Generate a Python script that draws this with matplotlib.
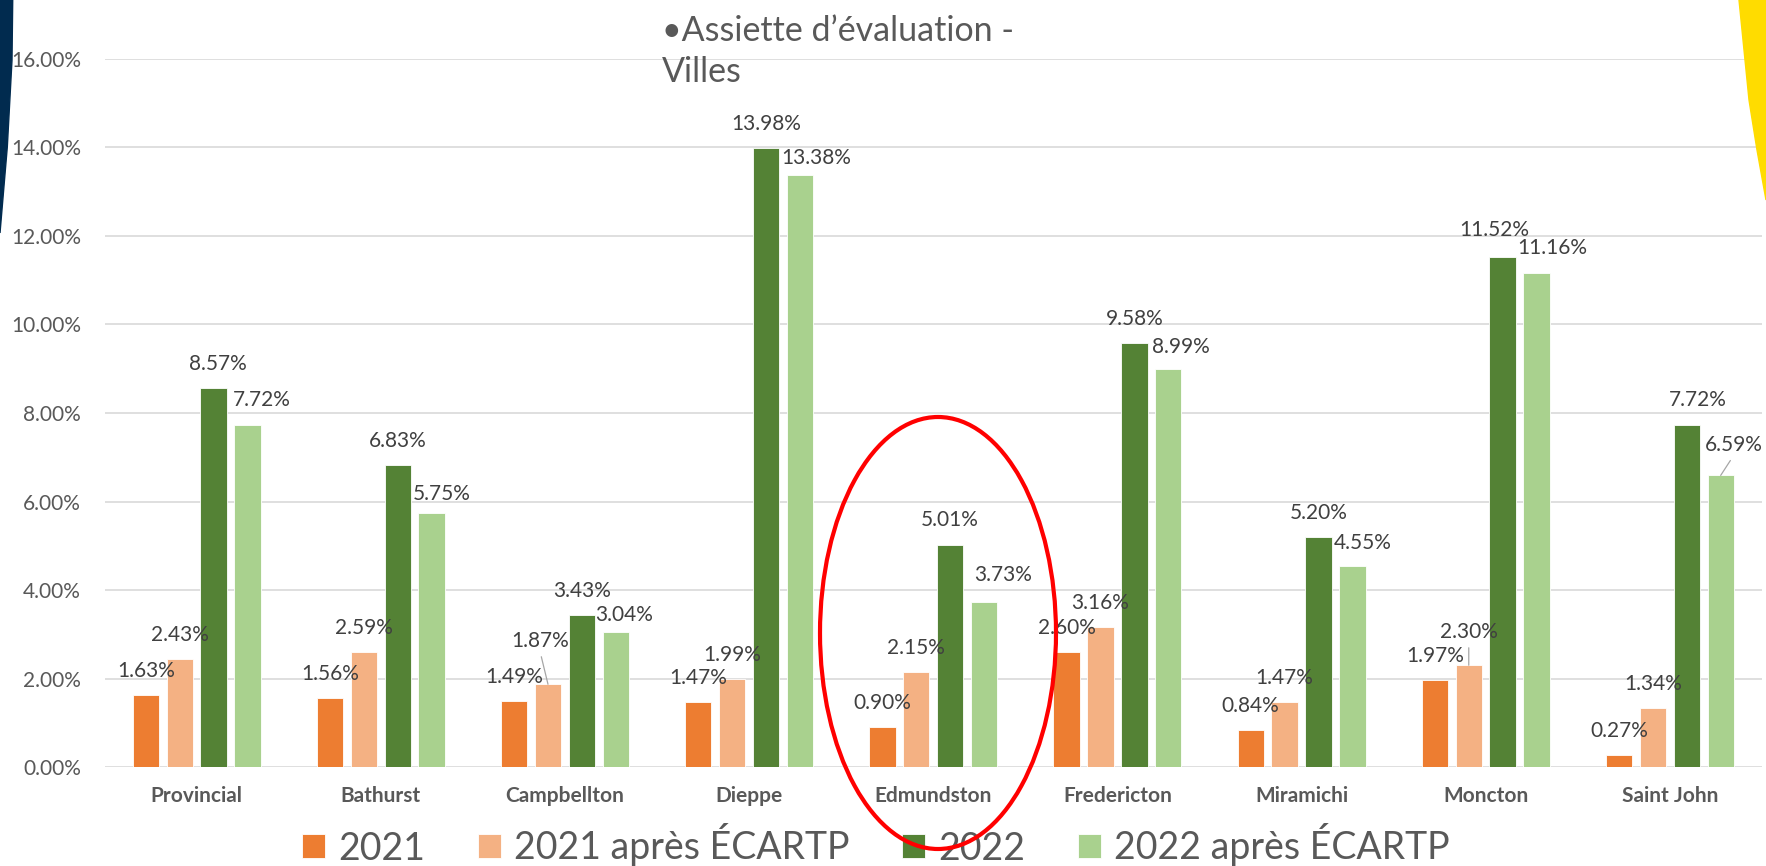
import numpy as np
import matplotlib
matplotlib.use('Agg')
import matplotlib.pyplot as plt
from matplotlib.patches import Ellipse, Polygon

# donnees
villes = ['Provincial', 'Bathurst', 'Campbellton', 'Dieppe', 'Edmundston',
          'Fredericton', 'Miramichi', 'Moncton', 'Saint John']
series_noms = ['2021', '2021 après ÉCARTP', '2022', '2022 après ÉCARTP']
v2021 = [1.63, 1.56, 1.49, 1.47, 0.90, 2.60, 0.84, 1.97, 0.27]
v2021_ecartp = [2.43, 2.59, 1.87, 1.99, 2.15, 3.16, 1.47, 2.30, 1.34]
v2022 = [8.57, 6.83, 3.43, 13.98, 5.01, 9.58, 5.20, 11.52, 7.72]
v2022_ecartp = [7.72, 5.75, 3.04, 13.38, 3.73, 8.99, 4.55, 11.16, 6.59]
y_ticks = [0, 2, 4, 6, 8, 10, 12, 14, 16]

couleurs = ['#ED7D31', '#F4B183', '#548235', '#A9D18E']

# decalage des etiquettes (pixels), comme place a la main dans Excel
label_dx = [[0, 0, 0, 0, 0, 0, 0, 0, 0],
            [0, 0, -8, 0, 0, 0, 0, 0, 0],
            [4, 0, 0, 0, 0, 0, 0, -8, 11],
            [14, 10, 8, 16, 19, 13, 10, 16, 13]]
label_dy = [[24, 24, 24, 24, 24, 24, 24, 24, 24],
            [24, 24, 43, 24, 24, 24, 24, 33, 24],
            [24, 24, 24, 24, 25, 24, 24, 27, 25],
            [25, 19, 17, 17, 27, 22, 23, 25, 30]]
leader = [(1, 2), (1, 7), (3, 8)]

plt.rcParams['font.family'] = ['Lato', 'DejaVu Sans']
px = 72 / 100  # pixels -> points

fig = plt.figure(figsize=(17.66, 8.66), dpi=100)
ax = fig.add_axes([0.0592, 0.1143, 0.9385, 0.8176])

x = np.arange(len(villes))
largeur = 0.143
pas = 0.184
donnees = [v2021, v2021_ecartp, v2022, v2022_ecartp]

for i, vals in enumerate(donnees):
    pos = x + (i - 1.5) * pas
    ax.bar(pos, vals, width=largeur, color=couleurs[i], label=series_noms[i],
           edgecolor='white', linewidth=0.6, zorder=3)
    for j, v in enumerate(vals):
        arrow = None
        if (i, j) in leader:
            arrow = dict(arrowstyle='-', color='#A6A6A6', lw=0.9,
                         shrinkA=2, shrinkB=0, relpos=(0.5, 0))
        ax.annotate('%.2f%%' % v, xy=(pos[j], v),
                    xytext=(label_dx[i][j] * px, label_dy[i][j] * px),
                    textcoords='offset points', ha='center', va='center',
                    fontsize=15, color='#404040', arrowprops=arrow, zorder=4)

ax.set_xlim(-0.5, len(villes) - 0.5)
ax.set_ylim(0, 16)
ax.set_yticks(y_ticks)
ax.set_yticklabels(['%.2f%%' % t for t in y_ticks])
ax.set_xticks(x)
ax.set_xticklabels(villes, fontweight='bold')
ax.tick_params(axis='y', length=0, pad=17, labelsize=15, labelcolor='#595959')
ax.tick_params(axis='x', length=0, pad=14, labelsize=15, labelcolor='#595959')
ax.grid(axis='y', color='#D9D9D9', linewidth=1.2, zorder=0)
ax.set_axisbelow(True)
for s in ax.spines.values():
    s.set_visible(False)

# titre sur deux lignes
fig.text(662 / 1766, 1 - 41 / 866, '•Assiette d’évaluation -', fontsize=24.5,
         color='#595959', ha='left', va='baseline')
fig.text(662 / 1766, 1 - 82 / 866, 'Villes', fontsize=24.5,
         color='#595959', ha='left', va='baseline')

# legende
fig.legend(loc='center', bbox_to_anchor=(876 / 1766, 1 - 845 / 866), ncol=4,
           frameon=False, fontsize=27, handlelength=0.62, handleheight=0.62,
           handletextpad=0.35, columnspacing=1.4, borderpad=0,
           labelcolor='#595959')

# formes decoratives de la diapo
W, H = 1766, 866
bleu = [(0, 0), (12.7, 0), (12, 60), (7.3, 147), (0, 233)]
fig.add_artist(Polygon([(a / W, 1 - b / H) for a, b in bleu], closed=True,
                       transform=fig.transFigure, color='#012B4F', zorder=5))
jaune = [(1739, 0), (1766, 0), (1766, 200), (1757, 150), (1749, 100)]
fig.add_artist(Polygon([(a / W, 1 - b / H) for a, b in jaune], closed=True,
                       transform=fig.transFigure, color='#FFDC00', zorder=5))

# cercle rouge autour d'Edmundston
fig.add_artist(Ellipse((938 / W, 1 - 633 / H), 236 / W, 432 / H,
                       transform=fig.transFigure, fill=False,
                       edgecolor='#FF0000', linewidth=3.0, zorder=6))

fig.savefig('out.png', dpi=100)
